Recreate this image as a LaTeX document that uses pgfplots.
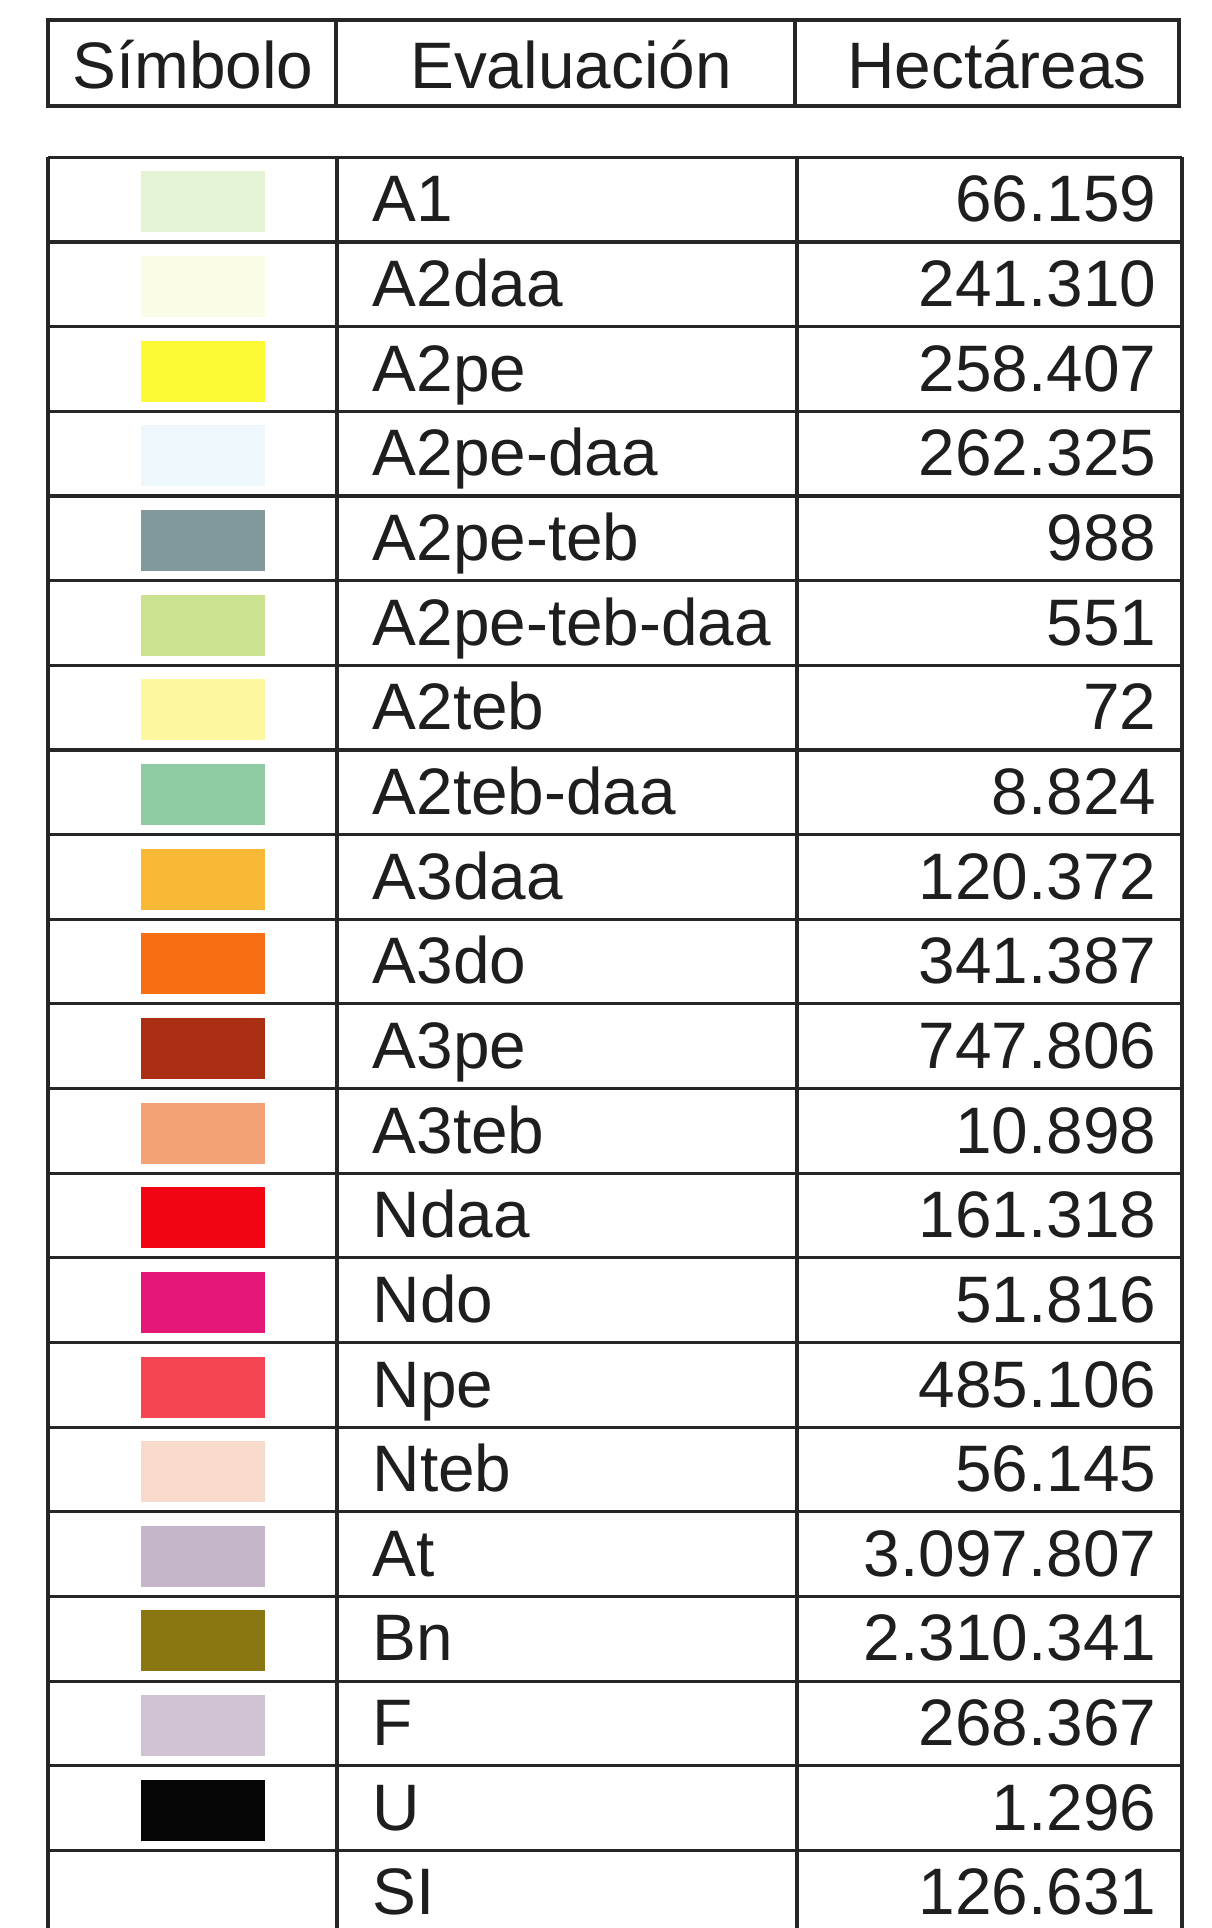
\documentclass[border=0pt]{standalone}
\usepackage{pgfplots}
\pgfplotsset{compat=1.18}
\usepackage{pgfplotstable}
\usepackage{fontspec}
\setmainfont{Liberation Sans}
\definecolor{txt}{HTML}{1E1E1E}
\definecolor{rule}{HTML}{262626}
\definecolor{cA1}{HTML}{E4F3D4}
\definecolor{cA2daa}{HTML}{FBFCE6}
\definecolor{cA2pe}{HTML}{FCF935}
\definecolor{cA2pedaa}{HTML}{EEF8FC}
\definecolor{cA2peteb}{HTML}{82999C}
\definecolor{cA2petebdaa}{HTML}{CBE290}
\definecolor{cA2teb}{HTML}{FDF8A0}
\definecolor{cA2tebdaa}{HTML}{8ECBA2}
\definecolor{cA3daa}{HTML}{F7B936}
\definecolor{cA3do}{HTML}{F66F12}
\definecolor{cA3pe}{HTML}{A92E12}
\definecolor{cA3teb}{HTML}{F3A276}
\definecolor{cNdaa}{HTML}{F20512}
\definecolor{cNdo}{HTML}{E5187A}
\definecolor{cNpe}{HTML}{F54452}
\definecolor{cNteb}{HTML}{F7DACB}
\definecolor{cAt}{HTML}{C6B6CA}
\definecolor{cBn}{HTML}{8A7714}
\definecolor{cF}{HTML}{CFC3D3}
\definecolor{cU}{HTML}{050505}
\newcommand\tabfont{\fontsize{18.7}{22}\selectfont}
\pgfplotstableread{
y name ha
221.9 A1 66159
306.55 A2daa 241310
391.2 A2pe 258407
475.85 A2pe-daa 262325
560.5 A2pe-teb 988
645.15 A2pe-teb-daa 551
729.8 A2teb 72
814.45 A2teb-daa 8824
899.1 A3daa 120372
983.75 A3do 341387
1068.4 A3pe 747806
1153.05 A3teb 10898
1237.7 Ndaa 161318
1322.35 Ndo 51816
1407.0 Npe 485106
1491.65 Nteb 56145
1576.3 At 3097807
1660.95 Bn 2310341
1745.6 F 268367
1830.25 U 1296
1914.9 SI 126631
}\datatable
\newcommand\swatch[2]{% #1 colour, #2 row top
  \addplot[fill=#1, draw=none, forget plot] coordinates {(141,#2+14) (265,#2+14) (265,#2+75) (141,#2+75)} -- cycle;}
\begin{document}
\begin{tikzpicture}
\begin{axis}[
  width=12.11cm, height=19.28cm, scale only axis,
  xmin=0, xmax=1211, ymin=0, ymax=1928, y dir=reverse,
  hide axis, clip=true,
]
\path (axis cs:0,0) rectangle (axis cs:1211,1928);
% swatches
\addplot[fill=cA1, draw=none] coordinates {(141,171.4) (265,171.4) (265,232.4) (141,232.4)} -- cycle;
\addplot[fill=cA2daa, draw=none] coordinates {(141,256.05) (265,256.05) (265,317.05) (141,317.05)} -- cycle;
\addplot[fill=cA2pe, draw=none] coordinates {(141,340.7) (265,340.7) (265,401.7) (141,401.7)} -- cycle;
\addplot[fill=cA2pedaa, draw=none] coordinates {(141,425.35) (265,425.35) (265,486.35) (141,486.35)} -- cycle;
\addplot[fill=cA2peteb, draw=none] coordinates {(141,510.0) (265,510.0) (265,571.0) (141,571.0)} -- cycle;
\addplot[fill=cA2petebdaa, draw=none] coordinates {(141,594.65) (265,594.65) (265,655.65) (141,655.65)} -- cycle;
\addplot[fill=cA2teb, draw=none] coordinates {(141,679.3) (265,679.3) (265,740.3) (141,740.3)} -- cycle;
\addplot[fill=cA2tebdaa, draw=none] coordinates {(141,763.95) (265,763.95) (265,824.95) (141,824.95)} -- cycle;
\addplot[fill=cA3daa, draw=none] coordinates {(141,848.6) (265,848.6) (265,909.6) (141,909.6)} -- cycle;
\addplot[fill=cA3do, draw=none] coordinates {(141,933.25) (265,933.25) (265,994.25) (141,994.25)} -- cycle;
\addplot[fill=cA3pe, draw=none] coordinates {(141,1017.9) (265,1017.9) (265,1078.9) (141,1078.9)} -- cycle;
\addplot[fill=cA3teb, draw=none] coordinates {(141,1102.55) (265,1102.55) (265,1163.55) (141,1163.55)} -- cycle;
\addplot[fill=cNdaa, draw=none] coordinates {(141,1187.2) (265,1187.2) (265,1248.2) (141,1248.2)} -- cycle;
\addplot[fill=cNdo, draw=none] coordinates {(141,1271.85) (265,1271.85) (265,1332.85) (141,1332.85)} -- cycle;
\addplot[fill=cNpe, draw=none] coordinates {(141,1356.5) (265,1356.5) (265,1417.5) (141,1417.5)} -- cycle;
\addplot[fill=cNteb, draw=none] coordinates {(141,1441.15) (265,1441.15) (265,1502.15) (141,1502.15)} -- cycle;
\addplot[fill=cAt, draw=none] coordinates {(141,1525.8) (265,1525.8) (265,1586.8) (141,1586.8)} -- cycle;
\addplot[fill=cBn, draw=none] coordinates {(141,1610.45) (265,1610.45) (265,1671.45) (141,1671.45)} -- cycle;
\addplot[fill=cF, draw=none] coordinates {(141,1695.1) (265,1695.1) (265,1756.1) (141,1756.1)} -- cycle;
\addplot[fill=cU, draw=none] coordinates {(141,1779.75) (265,1779.75) (265,1840.75) (141,1840.75)} -- cycle;
% names
\addplot[draw=none, mark=none, point meta=explicit symbolic,
  nodes near coords={\pgfplotspointmeta},
  every node near coord/.style={anchor=base west, inner sep=0pt, font=\tabfont, text=txt}]
  table[x expr=372, y=y, meta=name] {\datatable};
% hectares
\addplot[draw=none, mark=none, point meta=explicit,
  nodes near coords={\pgfmathprintnumber[fixed, precision=0, 1000 sep={.}, assume math mode=true]{\pgfplotspointmeta}},
  every node near coord/.style={anchor=base east, inner sep=0pt, font=\tabfont, text=txt}]
  table[x expr=1157, y=y, meta=ha] {\datatable};
% grid of the table
\pgfplotsinvokeforeach{157.4,242.05,326.7,411.35,496.0,580.65,665.3,749.95,834.6,919.25,1003.9,1088.55,1173.2,1257.85,1342.5,1427.15,1511.8,1596.45,1681.1,1765.75,1850.4}{
  \draw[rule, line width=0.9pt] (axis cs:48,#1) -- (axis cs:1182,#1);
}
\draw[rule, line width=0.9pt] (axis cs:48,157.4) -- (axis cs:48,1928);
\draw[rule, line width=0.9pt] (axis cs:337,157.4) -- (axis cs:337,1928);
\draw[rule, line width=0.9pt] (axis cs:797,157.4) -- (axis cs:797,1928);
\draw[rule, line width=0.9pt] (axis cs:1182,157.4) -- (axis cs:1182,1928);
% header
\draw[rule, line width=1pt] (axis cs:48,20) rectangle (axis cs:1179,106);
\draw[rule, line width=1pt] (axis cs:336,20) -- (axis cs:336,106);
\draw[rule, line width=1pt] (axis cs:795,20) -- (axis cs:795,106);
\node[anchor=base, inner sep=0pt, font=\tabfont, text=txt] at (axis cs:193,88) {Símbolo};
\node[anchor=base, inner sep=0pt, font=\tabfont, text=txt] at (axis cs:571,88) {Evaluación};
\node[anchor=base, inner sep=0pt, font=\tabfont, text=txt] at (axis cs:997,88) {Hectáreas};
\end{axis}
\end{tikzpicture}
\end{document}
